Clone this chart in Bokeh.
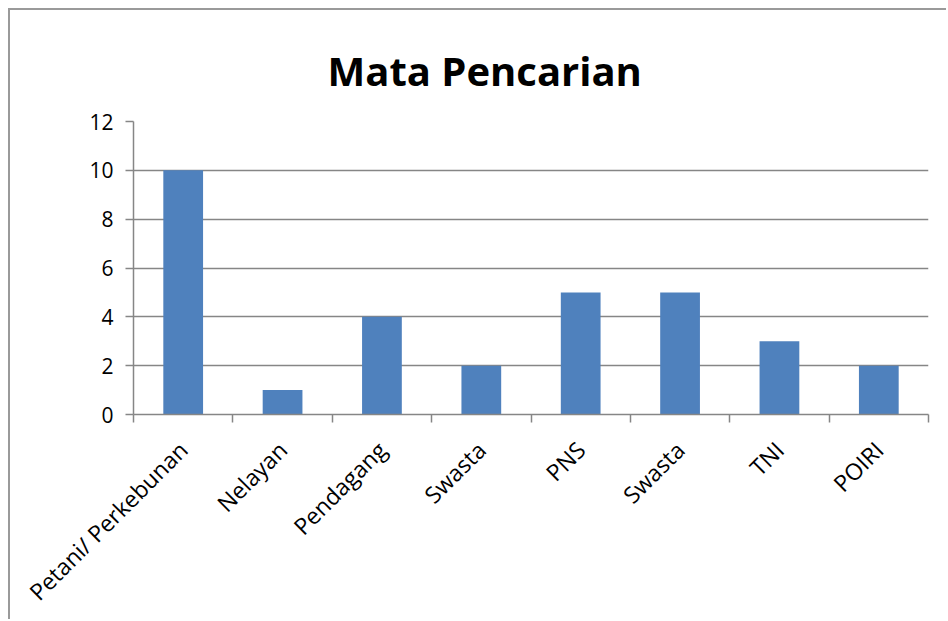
from math import pi
from bokeh.plotting import figure
from bokeh.models import FixedTicker, Range1d, ColumnDataSource
from bokeh.embed import file_html
from bokeh.resources import INLINE

categories = ["Petani/ Perkebunan", "Nelayan", "Pendagang", "Swasta", "PNS", "Swasta", "TNI", "POIRI"]
values = [10, 1, 4, 2, 5, 5, 3, 2]
y_ticks = [0, 2, 4, 6, 8, 10, 12]
title_text = "Mata Pencarian"

n = len(categories)
centers = [i + 0.5 for i in range(n)]
bounds = list(range(n + 1))

src = ColumnDataSource(dict(x=centers, top=values, name=categories))

FONT = "Open Sans"
GRAY = "#868686"

p = figure(width=938, height=611, x_range=Range1d(0, n), y_range=Range1d(0, 12),
           output_backend="svg", toolbar_location=None, title=title_text,
           min_border_left=123, min_border_right=20, min_border_top=111, min_border_bottom=205,
           styles={"border-left": "2px solid #9a9a9a", "border-top": "2px solid #9a9a9a",
                   "margin-left": "8px", "margin-top": "8px"})

p.vbar(x="x", top="top", bottom=0, width=0.4, source=src, fill_color="#4F81BD", line_color=None)

p.title.text_font = FONT
p.title.text_font_size = "40px"
p.title.text_font_style = "bold"
p.title.align = "left"
p.title.offset = 194
p.title.standoff = 48
p.title.text_color = "black"

p.outline_line_color = None
p.xgrid.visible = False
p.ygrid.ticker = FixedTicker(ticks=y_ticks)
p.ygrid.grid_line_color = GRAY
p.ygrid.grid_line_width = 1.5

p.yaxis.ticker = FixedTicker(ticks=y_ticks)
p.yaxis.axis_line_color = GRAY
p.yaxis.axis_line_width = 1.5
p.yaxis.major_tick_line_color = GRAY
p.yaxis.major_tick_line_width = 1.5
p.yaxis.major_tick_out = 8
p.yaxis.major_tick_in = 0
p.yaxis.minor_tick_line_color = None
p.yaxis.major_label_text_font = FONT
p.yaxis.major_label_text_font_size = "21px"
p.yaxis.major_label_text_color = "black"
p.yaxis.major_label_standoff = 12

p.xaxis.ticker = FixedTicker(ticks=centers, minor_ticks=bounds)
p.xaxis.major_label_overrides = {c: lab for c, lab in zip(centers, categories)}
p.xaxis.axis_line_color = GRAY
p.xaxis.axis_line_width = 1.5
p.xaxis.major_tick_line_color = None
p.xaxis.major_tick_out = 0
p.xaxis.major_tick_in = 0
p.xaxis.minor_tick_line_color = GRAY
p.xaxis.minor_tick_line_width = 1.5
p.xaxis.minor_tick_out = 8
p.xaxis.minor_tick_in = 0
p.xaxis.major_label_orientation = pi / 4
p.xaxis.major_label_text_font = FONT
p.xaxis.major_label_text_font_size = "23px"
p.xaxis.major_label_text_color = "black"
p.xaxis.major_label_standoff = 23

open("out.html", "w").write(file_html(p, INLINE))
